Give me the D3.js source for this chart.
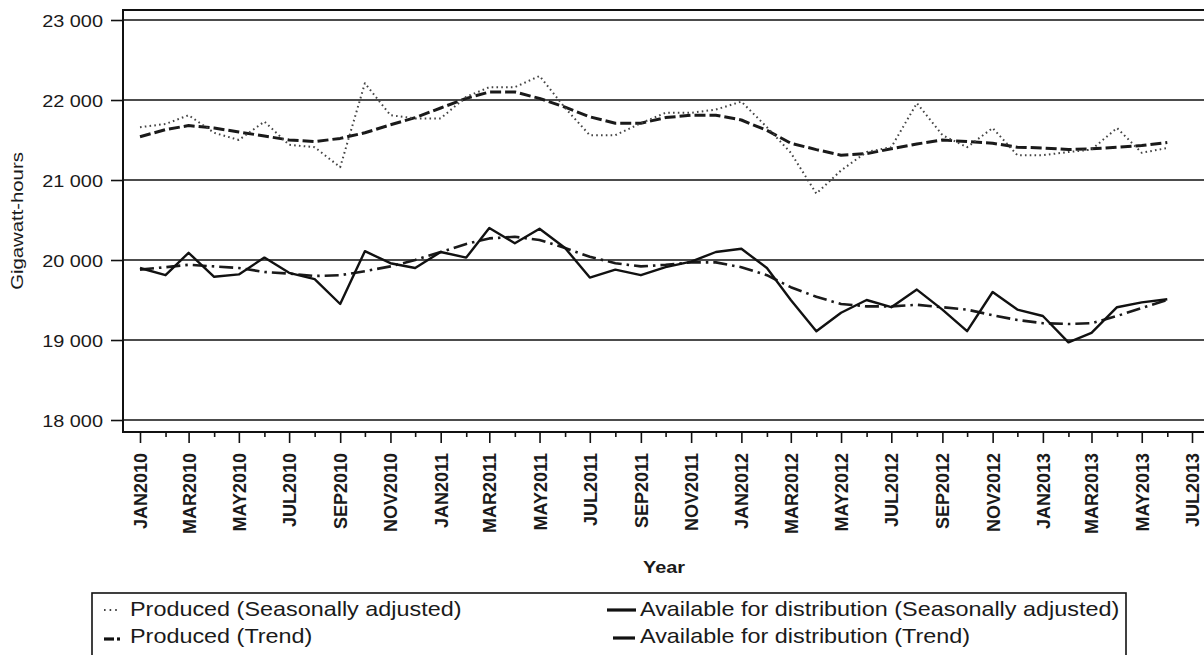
<!DOCTYPE html>
<html>
<head>
<meta charset="utf-8">
<script src="https://cdn.jsdelivr.net/npm/d3@7"></script>
<style>
  html, body { margin: 0; padding: 0; background: #fff; }
  svg { display: block; font-family: "Liberation Sans", Arial, sans-serif; }
</style>
</head>
<body>
<svg width="1204" height="655"></svg>
<script>
// monthly values, Jan 2010 .. Jun 2013 (gigawatt-hours)
var startMonth = new Date(2010, 0, 1);
var producedSA = [21660, 21700, 21810, 21590, 21500, 21730, 21440, 21410, 21160, 22210,
                  21810, 21770, 21770, 22040, 22160, 22160, 22300, 21900, 21560, 21560,
                  21710, 21840, 21840, 21880, 21980, 21660, 21340, 20830, 21120, 21350,
                  21410, 21960, 21560, 21410, 21650, 21310, 21310, 21350, 21380, 21650,
                  21340, 21400];
var producedTrend = [21540, 21630, 21680, 21650, 21600, 21550, 21500, 21480, 21520, 21590,
                     21690, 21780, 21900, 22020, 22100, 22100, 22020, 21910, 21790, 21710,
                     21710, 21780, 21810, 21810, 21750, 21620, 21460, 21380, 21310, 21330,
                     21390, 21450, 21500, 21480, 21460, 21410, 21400, 21380, 21390, 21410,
                     21430, 21470];
var availableSA = [19900, 19810, 20090, 19790, 19820, 20030, 19840, 19760, 19450, 20110,
                   19960, 19900, 20100, 20030, 20400, 20210, 20390, 20150, 19780, 19880,
                   19810, 19910, 19980, 20100, 20140, 19900, 19500, 19110, 19340, 19500,
                   19410, 19630, 19380, 19110, 19600, 19380, 19300, 18970, 19090, 19410,
                   19470, 19510];
var availableTrend = [19880, 19910, 19940, 19920, 19900, 19850, 19830, 19800, 19810, 19860,
                      19920, 20000, 20100, 20200, 20270, 20290, 20250, 20150, 20040, 19960,
                      19920, 19940, 19970, 19970, 19910, 19810, 19660, 19540, 19450, 19420,
                      19420, 19440, 19410, 19380, 19310, 19250, 19210, 19200, 19210, 19300,
                      19400, 19500];
var yTicks = [18000, 19000, 20000, 21000, 22000, 23000];
var legendLabels = ["Produced (Seasonally adjusted)", "Produced (Trend)",
                    "Available for distribution (Seasonally adjusted)", "Available for distribution (Trend)"];

var svg = d3.select('svg');
var sx = 1.17; // the original picture is stretched sideways

var xScale = d3.scaleTime().domain([new Date(2010, 0, 1), new Date(2013, 6, 1)]).range([140, 1192]);
var yScale = d3.scaleLinear().domain([18000, 23000]).range([420, 20]);

function months(arr) {
    return arr.map(function(v, i) { return {date: d3.timeMonth.offset(startMonth, i), value: v}; });
}

// gridlines
svg.append('g').selectAll('line').data(yTicks).join('line')
    .attr('x1', 123).attr('x2', 1204)
    .attr('y1', function(d) { return yScale(d); })
    .attr('y2', function(d) { return yScale(d); })
    .attr('stroke', '#111').attr('stroke-width', 1.6);

// frame
svg.append('path')
    .attr('d', 'M1210,10H123V432H1210')
    .attr('fill', 'none').attr('stroke', '#111').attr('stroke-width', 2);

// y axis
var fmt = d3.formatLocale({decimal: '.', thousands: ' ', grouping: [3], currency: ['', '']}).format(',d');
var yAxis = d3.axisLeft(yScale).tickValues(yTicks).tickSize(12).tickFormat(fmt);
var yg = svg.append('g').attr('transform', 'translate(123,0)').call(yAxis);
yg.select('.domain').remove();
yg.selectAll('line').attr('stroke', '#111').attr('stroke-width', 1.6);
yg.selectAll('text')
    .attr('x', 0).attr('dy', '0.36em')
    .attr('transform', 'translate(-20,0) scale(' + sx + ',1)')
    .attr('font-size', 17).attr('fill', '#1a1a1a').attr('font-family', null);

// x axis: major ticks every two months, minor ticks between
var allMonths = d3.timeMonth.range(new Date(2010, 0, 1), new Date(2013, 6, 2));
var majors = allMonths.filter(function(d) { return d.getMonth() % 2 === 0; });
var minors = allMonths.filter(function(d) { return d.getMonth() % 2 === 1; });

var xMinor = svg.append('g').attr('transform', 'translate(0,432)')
    .call(d3.axisBottom(xScale).tickValues(minors).tickSize(5).tickFormat(''));
xMinor.select('.domain').remove();
xMinor.selectAll('line').attr('stroke', '#111').attr('stroke-width', 1.6);

var monthFmt = d3.timeFormat('%b%Y');
var xMajor = svg.append('g').attr('transform', 'translate(0,432)')
    .call(d3.axisBottom(xScale).tickValues(majors).tickSize(11)
        .tickFormat(function(d) { return monthFmt(d).toUpperCase(); }));
xMajor.select('.domain').remove();
xMajor.selectAll('line').attr('stroke', '#111').attr('stroke-width', 1.6);
xMajor.selectAll('text')
    .attr('x', 0).attr('y', 0).attr('dy', null)
    .attr('transform', 'translate(6.5,21) rotate(-90)')
    .attr('text-anchor', 'end')
    .attr('font-size', 18).attr('font-weight', 'bold').attr('fill', '#1a1a1a').attr('font-family', null);

// axis titles
svg.append('text')
    .text('Year')
    .attr('transform', 'translate(664,573) scale(' + sx + ',1)')
    .attr('text-anchor', 'middle')
    .attr('font-size', 17).attr('font-weight', 'bold').attr('fill', '#1a1a1a');

svg.append('text')
    .text('Gigawatt-hours')
    .attr('transform', 'translate(23,221) rotate(-90) scale(1.27,1)')
    .attr('text-anchor', 'middle')
    .attr('font-size', 16).attr('fill', '#1a1a1a');

// series
var line = d3.line()
    .x(function(d) { return xScale(d.date); })
    .y(function(d) { return yScale(d.value); });

var styles = [
    {data: producedTrend, dash: '11,4', width: 3, color: '#1a1a1a'},
    {data: producedSA, dash: '1.6,3.2', width: 2, color: '#444'},
    {data: availableTrend, dash: '14,5,2.5,5', width: 2.6, color: '#1a1a1a'},
    {data: availableSA, dash: null, width: 2.4, color: '#111'}
];

styles.forEach(function(s) {
    svg.append('path')
        .datum(months(s.data))
        .attr('d', line)
        .attr('fill', 'none')
        .attr('stroke', s.color)
        .attr('stroke-width', s.width)
        .attr('stroke-dasharray', s.dash)
        .attr('stroke-linejoin', 'round');
});

// legend
svg.append('rect')
    .attr('x', 92).attr('y', 593).attr('width', 1034).attr('height', 80)
    .attr('fill', 'none').attr('stroke', '#111').attr('stroke-width', 1.6);

var legendItems = [
    {label: legendLabels[0], x: 130, y: 616},
    {label: legendLabels[1], x: 130, y: 643},
    {label: legendLabels[2], x: 640, y: 616},
    {label: legendLabels[3], x: 640, y: 643}
];
legendItems.forEach(function(item) {
    svg.append('text')
        .text(item.label)
        .attr('transform', 'translate(' + item.x + ',' + item.y + ') scale(' + sx + ',1)')
        .attr('font-size', 20).attr('fill', '#1a1a1a');
});

// legend symbols
svg.append('line').attr('x1', 104).attr('x2', 120).attr('y1', 610).attr('y2', 610)
    .attr('stroke', '#444').attr('stroke-width', 2).attr('stroke-dasharray', '1.6,4');
svg.append('line').attr('x1', 104).attr('x2', 114).attr('y1', 639).attr('y2', 639)
    .attr('stroke', '#111').attr('stroke-width', 3.2);
svg.append('line').attr('x1', 117).attr('x2', 120).attr('y1', 639).attr('y2', 639)
    .attr('stroke', '#111').attr('stroke-width', 3.2);
svg.append('line').attr('x1', 607).attr('x2', 636).attr('y1', 610).attr('y2', 610)
    .attr('stroke', '#111').attr('stroke-width', 3.2);
svg.append('line').attr('x1', 613).attr('x2', 635).attr('y1', 638).attr('y2', 638)
    .attr('stroke', '#111').attr('stroke-width', 3.2);
</script>
</body>
</html>
